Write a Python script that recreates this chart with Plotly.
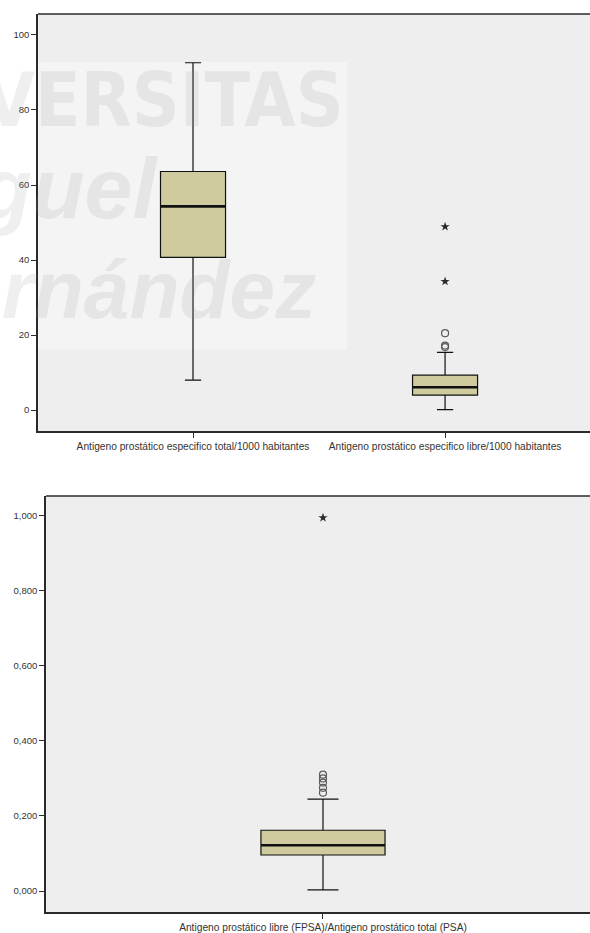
import plotly.graph_objects as go

# ---- data -------------------------------------------------------------
top_labels = ["Antigeno prostático especifico total/1000 habitantes",
              "Antigeno prostático especifico libre/1000 habitantes"]
top_pos = [0, 1]
top_q1 = [40.7, 4.0]
top_median = [54.3, 6.1]
top_q3 = [63.6, 9.3]
top_low = [8.0, 0.1]
top_high = [92.6, 15.4]
top_out_x = [1, 1, 1]
top_out_y = [20.5, 17.2, 16.8]
top_ext_x = [1, 1]
top_ext_y = [48.9, 34.3]

bot_labels = ["Antigeno prostático libre (FPSA)/Antigeno prostático total (PSA)"]
bot_pos = [0]
bot_q1 = [0.096]
bot_median = [0.122]
bot_q3 = [0.162]
bot_low = [0.003]
bot_high = [0.245]
bot_out_x = [0, 0, 0, 0, 0]
bot_out_y = [0.310, 0.300, 0.289, 0.275, 0.262]
bot_ext_x = [0]
bot_ext_y = [0.995]

# ---- styling ----------------------------------------------------------
W, H = 590, 933
BOX_FILL = "#cfcb9f"
BG = "#efeeef"
FRAME = "#2a2a2a"
FONT = "Liberation Sans, Arial, sans-serif"
TXT = "#333333"

top_w = 0.258
bot_w = 0.448


def px_x(px):
    return px / W


def px_y(py):
    return 1 - py / H


def median_line(pos, med, w):
    xs, ys = [], []
    for p, m in zip(pos, med):
        xs += [p - w / 2, p + w / 2, None]
        ys += [m, m, None]
    return xs, ys


def add_panel(fig, pos, q1, med, q3, low, high, w, ox, oy, ex, ey, xa, ya):
    fig.add_trace(go.Box(
        x=pos, q1=q1, median=med, q3=q3, lowerfence=low, upperfence=high,
        width=w, whiskerwidth=0.25, boxpoints=False,
        fillcolor=BOX_FILL, line=dict(color="#111111", width=1.2),
        xaxis=xa, yaxis=ya, hoverinfo="skip"))
    mx, my = median_line(pos, med, w)
    fig.add_trace(go.Scatter(x=mx, y=my, mode="lines",
                             line=dict(color="#111111", width=2.6),
                             xaxis=xa, yaxis=ya, hoverinfo="skip"))
    fig.add_trace(go.Scatter(x=ox, y=oy, mode="markers",
                             marker=dict(symbol="circle-open", size=7,
                                         color="#5a5a5a",
                                         line=dict(color="#5a5a5a", width=1.2)),
                             xaxis=xa, yaxis=ya, hoverinfo="skip"))
    fig.add_trace(go.Scatter(x=ex, y=ey, mode="markers",
                             marker=dict(symbol="star", size=7, color="#2a2a2a"),
                             xaxis=xa, yaxis=ya, hoverinfo="skip"))


fig = go.Figure()

# faint watermark panel behind the upper chart's marks
fig.add_shape(type="rect", xref="x domain", yref="y domain",
              x0=-0.07, x1=0.56, y0=0.195, y1=0.885,
              fillcolor="rgba(255,255,255,0.35)", line=dict(width=0),
              layer="below")

add_panel(fig, top_pos, top_q1, top_median, top_q3, top_low, top_high, top_w,
          top_out_x, top_out_y, top_ext_x, top_ext_y, "x", "y")
add_panel(fig, bot_pos, bot_q1, bot_median, bot_q3, bot_low, bot_high, bot_w,
          bot_out_x, bot_out_y, bot_ext_x, bot_ext_y, "x2", "y2")

axis_common = dict(showgrid=False, zeroline=False, showline=True,
                   linecolor=FRAME, linewidth=1.6, ticks="outside",
                   ticklen=5, tickwidth=1.4, tickcolor=FRAME,
                   tickfont=dict(family=FONT, size=9.5, color=TXT))
cat_font = dict(family=FONT, size=10.2, color=TXT)

fig.update_layout(
    width=W, height=H,
    margin=dict(l=0, r=0, t=0, b=0),
    paper_bgcolor="white",
    plot_bgcolor=BG,
    showlegend=False,
    separators=",.",
    xaxis=dict(domain=[px_x(38), 1], range=[-0.615, 1.575],
               tickvals=top_pos, ticktext=top_labels, anchor="y",
               **{**axis_common, "tickfont": cat_font}),
    yaxis=dict(domain=[px_y(432), px_y(14)], range=[-5.6, 105.6],
               tickvals=[0, 20, 40, 60, 80, 100], anchor="x",
               **axis_common),
    xaxis2=dict(domain=[px_x(46), 1], range=[-1.0, 0.964],
                tickvals=bot_pos, ticktext=bot_labels, anchor="y2",
                **{**axis_common, "tickfont": cat_font}),
    yaxis2=dict(domain=[px_y(914), px_y(497)], range=[-0.056, 1.053],
                tickvals=[0, 0.2, 0.4, 0.6, 0.8, 1.0], tickformat=".3f",
                anchor="x2", **axis_common),
)

# top frame edges of each panel
for y_top, x_left in [(14, 38), (497, 46)]:
    fig.add_shape(type="line", xref="paper", yref="paper",
                  x0=px_x(x_left), x1=1, y0=px_y(y_top), y1=px_y(y_top),
                  line=dict(color=FRAME, width=1.6))

wm_color = "rgba(150,150,150,0.15)"
fig.add_annotation(text="<b>UNIVERSITAS</b>", xref="paper", yref="paper",
                   x=px_x(346), y=px_y(100), xanchor="right", yanchor="middle",
                   showarrow=False,
                   font=dict(family="DejaVu Sans Condensed, Liberation Sans",
                             size=74, color=wm_color))
fig.add_annotation(text="<b><i>Miguel</i></b>", xref="paper", yref="paper",
                   x=px_x(160), y=px_y(188), xanchor="right", yanchor="middle",
                   showarrow=False,
                   font=dict(family=FONT, size=86, color=wm_color))
fig.add_annotation(text="<b><i>Hernández</i></b>", xref="paper", yref="paper",
                   x=px_x(318), y=px_y(290), xanchor="right", yanchor="middle",
                   showarrow=False,
                   font=dict(family=FONT, size=82, color=wm_color))

fig.write_html("out.html")
